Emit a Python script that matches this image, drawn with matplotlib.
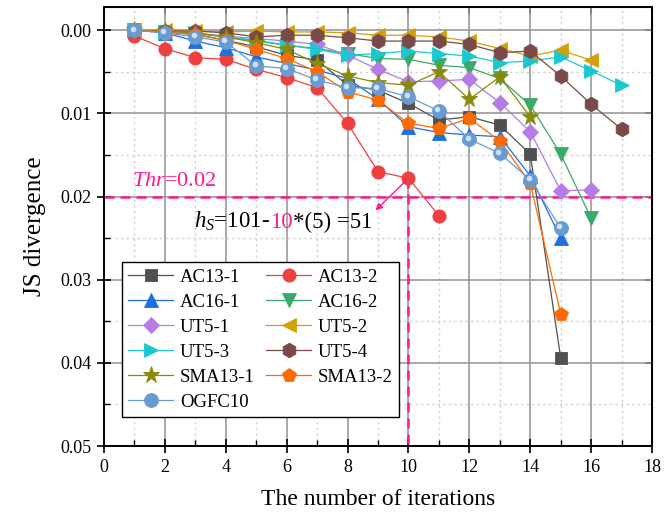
import matplotlib
matplotlib.use("Agg")
import matplotlib.pyplot as plt
import matplotlib.transforms as mtransforms
import numpy as np

plt.rcParams['font.family'] = ['Liberation Serif', 'DejaVu Serif']
plt.rcParams['mathtext.fontset'] = 'custom'
plt.rcParams['mathtext.rm'] = 'Liberation Serif'
plt.rcParams['mathtext.it'] = 'Liberation Serif:italic'

# ---------------- data ----------------
ac13_1 = [0, 0.0002, 0.0005, 0.0012, 0.0020, 0.0030, 0.0036, 0.0066, 0.0072, 0.0088, 0.0108, 0.0104, 0.0114, 0.0149, 0.0394]
ac13_2 = [0.0007, 0.0022, 0.0033, 0.0035, 0.0047, 0.0057, 0.0069, 0.0112, 0.0170, 0.0178, 0.0223]
ac16_1 = [0, 0.0003, 0.0013, 0.0021, 0.0032, 0.0040, 0.0048, 0.0058, 0.0083, 0.0116, 0.0123, 0.0126, 0.0128, 0.0175, 0.0250]
ac16_2 = [0, 0.0002, 0.0004, 0.0008, 0.0013, 0.0018, 0.0022, 0.0028, 0.0034, 0.0035, 0.0042, 0.0045, 0.0058, 0.0090, 0.0149, 0.0226]
ut5_1 = [0, 0.0002, 0.0004, 0.0007, 0.0010, 0.0013, 0.0017, 0.0030, 0.0047, 0.0062, 0.0061, 0.0059, 0.0087, 0.0122, 0.0193, 0.0192]
ut5_2 = [0, 0, 0.0001, 0.0002, 0.0001, 0.0002, 0.0002, 0.0003, 0.0006, 0.0006, 0.0008, 0.0013, 0.0022, 0.0031, 0.0024, 0.0036]
ut5_3 = [0, 0.0002, 0.0003, 0.0008, 0.0012, 0.0018, 0.0023, 0.0030, 0.0028, 0.0025, 0.0028, 0.0031, 0.0039, 0.0037, 0.0032, 0.0049, 0.0066]
ut5_4 = [0, 0.0001, 0.0001, 0.0003, 0.0008, 0.0006, 0.0006, 0.0009, 0.0013, 0.0013, 0.0013, 0.0017, 0.0027, 0.0025, 0.0055, 0.0089, 0.0119]
sma13_1 = [0, 0.0001, 0.0003, 0.0008, 0.0015, 0.0023, 0.0040, 0.0055, 0.0063, 0.0066, 0.0050, 0.0083, 0.0056, 0.0104]
sma13_2 = [0, 0.0002, 0.0005, 0.0012, 0.0023, 0.0034, 0.0050, 0.0074, 0.0084, 0.0112, 0.0118, 0.0106, 0.0133, 0.0184, 0.0341]
ogfc10 = [0, 0.0003, 0.0008, 0.0014, 0.0043, 0.0046, 0.0060, 0.0069, 0.0070, 0.0080, 0.0097, 0.0131, 0.0148, 0.0180, 0.0238]

names = ['AC13-1', 'AC13-2', 'AC16-1', 'AC16-2', 'UT5-1', 'UT5-2',
         'UT5-3', 'UT5-4', 'SMA13-1', 'SMA13-2', 'OGFC10']
series = [ac13_1, ac13_2, ac16_1, ac16_2, ut5_1, ut5_2, ut5_3, ut5_4,
          sma13_1, sma13_2, ogfc10]
colors = ['#505050', '#ef4040', '#1e6fe0', '#3aaa6a', '#b57be6', '#d4a00a',
          '#1cc8d0', '#7a4a4a', '#8a8a0a', '#ff6a00', '#6a9bd0']
markers = ['s', 'o', '^', 'v', 'D', '<', '>', 'h', '*', 'p', 'o']
msizes = [8.5, 9.5, 10, 10, 8, 10, 10, 10.5, 12.5, 10.5, 10]

thr = 0.02
sel_iter = 10
sel_val = ac13_2[9]
pink = '#ff1a8c'

# ---------------- figure ----------------
fig = plt.figure(figsize=(6.64, 5.17), dpi=100)
ax = fig.add_axes([0.1566, 0.1373, 0.8254, 0.8492])

handles = []
for name, ys, c, m, ms in zip(names, series, colors, markers, msizes):
    xs = np.arange(1, len(ys) + 1)
    h, = ax.plot(xs, ys, color=c, marker=m, markersize=ms, lw=0.9,
                 markeredgecolor=c, markeredgewidth=0.6, label=name, zorder=3)
    handles.append(h)

# highlight on the OGFC10 spheres (offset up-left)
xs_o = np.arange(1, len(ogfc10) + 1)
hl_tr = mtransforms.offset_copy(ax.transData, fig=fig, x=-1.2, y=1.2,
                                units='points')
ax.plot(xs_o, ogfc10, ls='none', marker='o', markersize=4,
        color='#cfe1f4', markeredgewidth=0, zorder=4, transform=hl_tr)

# threshold lines
ax.axhline(thr, color=pink, lw=1.8, ls=(0, (4, 2.4)), zorder=2.5)
ax.plot([sel_iter, sel_iter], [sel_val, 0.05], color=pink, lw=1.8,
        ls=(0, (4, 2.4)), zorder=2.5)
ax.annotate('', xy=(8.85, 0.0219), xytext=(sel_iter, sel_val),
            arrowprops=dict(arrowstyle='-|>', color=pink, lw=1.0,
                            mutation_scale=10), zorder=5)

ax.text(0.92, 0.01875, r'$\mathit{Thr}$=0.02', color=pink, fontsize=16,
        va='baseline', ha='left', zorder=6)

t1 = ax.text(2.96, 0.0238, r'$h_S$=101-', color='black', fontsize=16.5,
             va='baseline', ha='left', zorder=6)
t2 = ax.annotate('10', xy=(1, 0.0238), xycoords=(t1, 'data'), color=pink,
                 fontsize=16.5, va='baseline', ha='left', zorder=6)
t3 = ax.annotate('*(5) =51', xy=(1, 0.0238), xycoords=(t2, 'data'),
                 color='black', fontsize=16.5, va='baseline', ha='left',
                 zorder=6)

# axes
ax.set_xlim(0, 18)
ax.set_ylim(0.05, -0.0028)
ax.set_xticks(np.arange(0, 19, 2))
ax.set_xticks(np.arange(0, 19, 1), minor=True)
ax.set_yticks([0.00, 0.01, 0.02, 0.03, 0.04, 0.05])
ax.set_yticks(np.arange(0, 0.0501, 0.005), minor=True)
ax.set_yticklabels(['0.00', '0.01', '0.02', '0.03', '0.04', '0.05'])

ax.grid(which='major', color='#999999', lw=1.2, ls='-', zorder=0)
ax.grid(which='minor', color='#cccccc', lw=1.0, ls=(0, (1.5, 2.5)), zorder=0)
ax.set_axisbelow(True)

ax.tick_params(axis='both', which='major', direction='inout', length=10,
               width=1.2, labelsize=13, pad=4)
ax.tick_params(axis='both', which='minor', direction='in', length=4, width=1.0)
for s in ax.spines.values():
    s.set_linewidth(1.4)

sx = ax.secondary_xaxis('top')
sx.set_xticks(np.arange(0, 19, 2))
sx.tick_params(direction='in', length=5, width=1.2, labeltop=False)
sy = ax.secondary_yaxis('right')
sy.set_yticks([0.00, 0.01, 0.02, 0.03, 0.04, 0.05])
sy.tick_params(direction='in', length=5, width=1.2, labelright=False)

ax.set_xlabel('The number of iterations', fontsize=17, labelpad=10)
ax.set_ylabel('JS divergence', fontsize=18, labelpad=10)

order = [0, 2, 4, 6, 8, 10, 1, 3, 5, 7, 9]
leg = ax.legend([handles[i] for i in order], [names[i] for i in order],
                ncol=2, loc='upper left', bbox_to_anchor=(0.0325, 0.419),
                borderaxespad=0, fontsize=13.5, handlelength=2.4,
                handletextpad=0.35, columnspacing=0.6, labelspacing=0.42,
                borderpad=0.35, fancybox=False, framealpha=1,
                edgecolor='black')
leg.get_frame().set_linewidth(1.0)
leg.set_zorder(7)

fig.savefig('out.png', dpi=100)
